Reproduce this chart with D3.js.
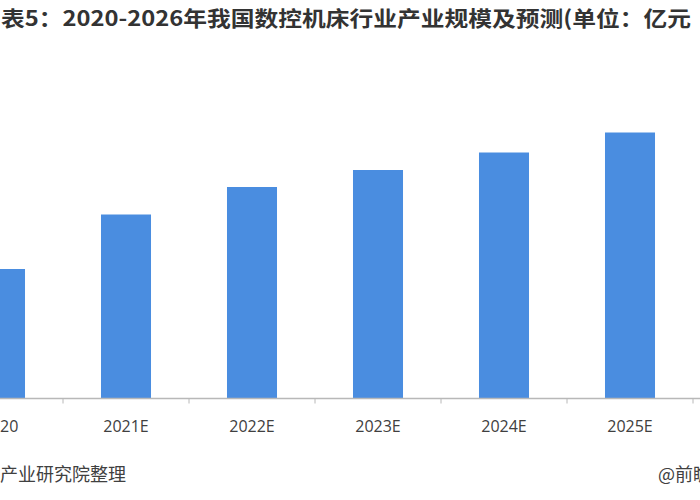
<!DOCTYPE html>
<html><head><meta charset="utf-8">
<script src="https://cdn.jsdelivr.net/npm/d3@7"></script>
<style>body{margin:0;background:#fff}svg{display:block}</style>
</head><body>
<svg id="c" width="700" height="500"></svg>
<script>
const categories = ["2020","2021E","2022E","2023E","2024E","2025E","2026E"];
const values = [1295, 1840, 2115, 2285, 2460, 2660, 2860];
const titleText = "表5：2020-2026年我国数控机床行业产业规模及预测(单位：亿元";
const sourceText = "产业研究院整理";
const creditText = "@前瞻经济学人";

const svg = d3.select("#c");
const baseY = 398.5;
const x = d3.scaleBand().domain(categories).range([-63, 819]).padding(0);
const y = d3.scaleLinear().domain([0, 3000]).range([baseY, 98.5]);
const barW = x.bandwidth() * 0.397;

svg.append("text").attr("x", 1).attr("y", 26)
  .attr("font-family", "'Noto Sans CJK SC', sans-serif").attr("font-weight", "bold")
  .attr("font-size", 21).attr("fill", "#333")
  .attr("textLength", 690).attr("lengthAdjust", "spacingAndGlyphs")
  .text(titleText);

svg.selectAll("rect.bar").data(categories).join("rect").attr("class","bar")
  .attr("x", d => x(d) + x.bandwidth()/2 - barW/2)
  .attr("width", barW)
  .attr("y", (d,i) => y(values[i]))
  .attr("height", (d,i) => baseY - y(values[i]))
  .attr("fill", "#4a8de0");

svg.append("line").attr("x1", x.range()[0]).attr("x2", x.range()[1])
  .attr("y1", baseY).attr("y2", baseY).attr("stroke", "#b8b8b8").attr("stroke-width", 1.5);

svg.selectAll("line.tick").data(categories).join("line").attr("class","tick")
  .attr("x1", d => x(d) + x.bandwidth()).attr("x2", d => x(d) + x.bandwidth())
  .attr("y1", baseY).attr("y2", baseY + 5).attr("stroke", "#b8b8b8").attr("stroke-width", 1);

svg.selectAll("text.lab").data(categories).join("text").attr("class","lab")
  .attr("x", d => x(d) + x.bandwidth()/2).attr("y", 432)
  .attr("text-anchor", "middle")
  .attr("font-family", "'Open Sans', sans-serif").attr("font-size", 16).attr("fill", "#404040")
  .text(d => d);

svg.append("text").attr("x", 0).attr("y", 481)
  .attr("font-family", "'Noto Sans CJK SC', sans-serif").attr("font-size", 18).attr("fill", "#404040")
  .text(sourceText);

svg.append("text").attr("x", 658).attr("y", 481)
  .attr("font-family", "'Noto Sans CJK SC', sans-serif").attr("font-size", 18).attr("fill", "#404040")
  .text(creditText);
</script>
</body></html>
